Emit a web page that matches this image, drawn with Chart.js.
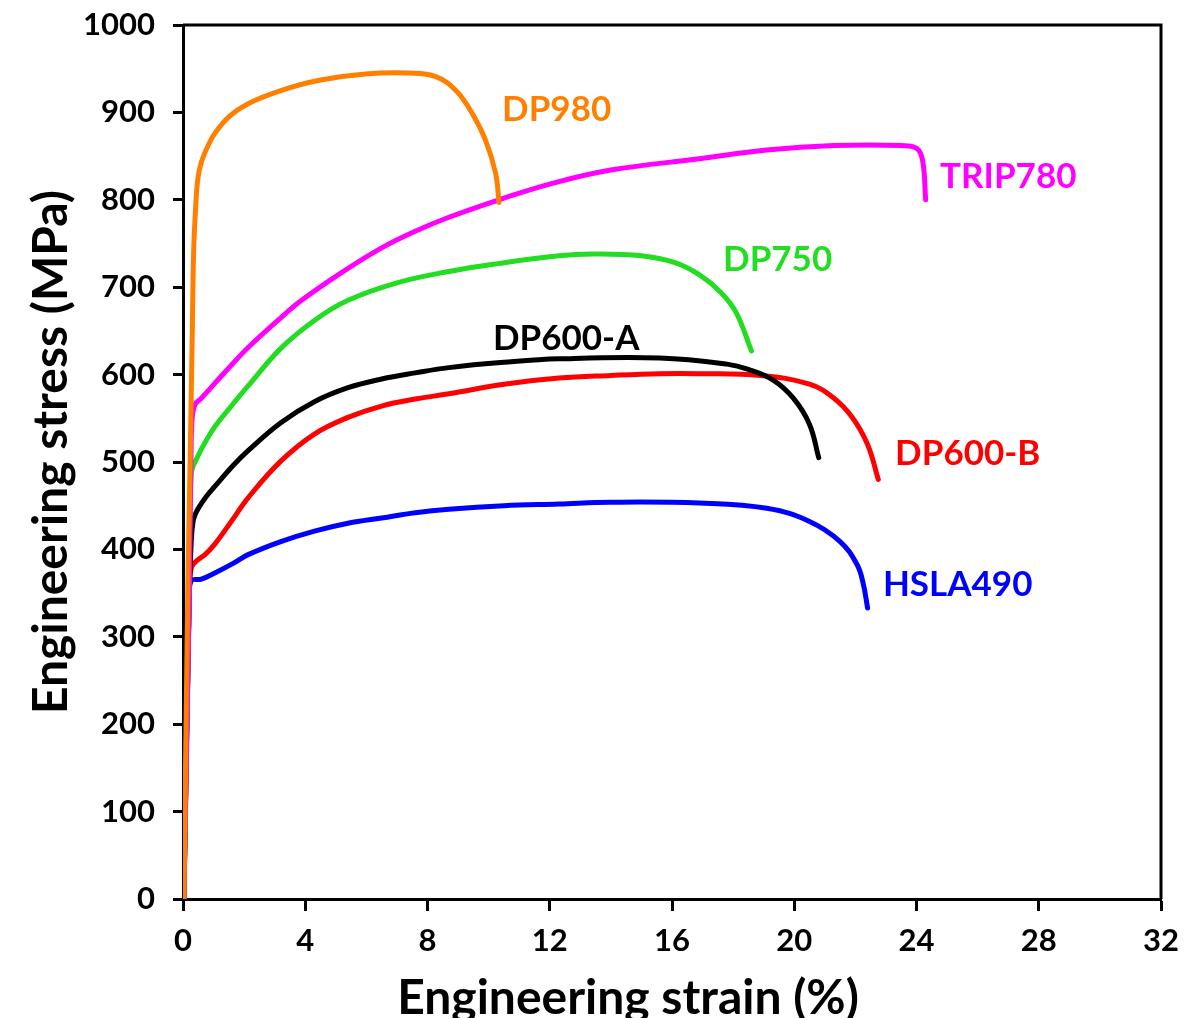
<!DOCTYPE html>
<html>
<head>
<meta charset="utf-8">
<script src="https://cdn.jsdelivr.net/npm/chart.js@4.4.1/dist/chart.umd.min.js"></script>
<style>
  html, body { margin: 0; padding: 0; background: #fff; }
  #wrap { width: 1203px; height: 1018px; }
</style>
</head>
<body>
<div id="wrap"><canvas id="stressChart" width="1203" height="1018"></canvas></div>
<script>
// strain in %, stress in MPa
const dp980Strain = [0.03, 0.16, 0.22, 0.30, 0.35, 0.42, 0.49, 0.60, 0.82, 1.04, 1.50, 2.13, 3.20, 4.50, 5.97, 7.38, 8.27, 8.93, 9.46, 9.90, 10.23, 10.34];
const dp980Stress = [0, 360, 475, 640, 742, 795, 825, 843, 862, 876, 895, 910, 925, 937, 944, 945, 941, 925, 899, 868, 830, 797];

const trip780Strain = [0.03, 0.20, 0.26, 0.30, 0.40, 0.60, 1.04, 1.64, 2.13, 3.20, 3.88, 5.20, 6.50, 7.60, 8.70, 10.34, 12.0, 14.0, 16.9, 19.1, 21.3, 23.5, 24.0, 24.2, 24.3];
const trip780Stress = [0, 340, 500, 550, 566, 573, 590, 613, 631, 665, 685, 717, 745, 764, 780, 800, 818, 834, 847, 857, 862, 862, 859, 845, 800];

const dp750Strain = [0.03, 0.20, 0.27, 0.49, 0.75, 1.05, 1.58, 2.13, 3.2, 4.3, 5.4, 7.0, 8.7, 10.3, 12.3, 13.4, 15.0, 16.1, 16.9, 17.6, 18.1, 18.6];
const dp750Stress = [0, 340, 486, 507, 524, 541, 564, 587, 630, 662, 685, 705, 718, 727, 736, 738, 736, 728, 714, 694, 671, 627];

const dp600aStrain = [0.03, 0.20, 0.27, 0.33, 0.40, 0.50, 0.75, 1.04, 1.64, 2.13, 3.2, 4.3, 5.4, 6.5, 7.6, 8.7, 10.5, 12.3, 15.6, 17.8, 18.5, 19.3, 19.97, 20.5, 20.8];
const dp600aStress = [0, 340, 410, 432, 440, 447, 460, 472, 496, 513, 545, 569, 585, 595, 602, 608, 614, 618, 619, 612, 606, 594, 573, 543, 505];

const dp600bStrain = [0.03, 0.20, 0.27, 0.45, 0.72, 1.04, 1.58, 2.13, 3.2, 4.3, 5.4, 6.5, 7.6, 8.7, 10.5, 12.3, 14.0, 15.6, 16.9, 18.9, 20.5, 21.3, 21.9, 22.4, 22.75];
const dp600bStress = [0, 340, 379, 387, 394, 406, 432, 459, 501, 532, 551, 564, 572, 578, 589, 596, 599, 601, 601, 599, 589, 573, 551, 520, 480];

const hsla490Strain = [0.03, 0.20, 0.27, 0.60, 1.04, 1.64, 2.13, 3.2, 4.3, 5.4, 6.5, 7.6, 8.7, 10.5, 12.3, 14.0, 16.9, 19.1, 20.5, 21.5, 22.05, 22.25, 22.4];
const hsla490Stress = [0, 340, 364, 366, 373, 384, 394, 409, 421, 430, 436, 442, 446, 450, 452, 454, 453, 447, 432, 409, 383, 362, 333];

const seriesNames = ['DP980', 'TRIP780', 'DP750', 'DP600-A', 'DP600-B', 'HSLA490'];
const seriesColors = ['#FF8000', '#FF00FF', '#22DD22', '#000000', '#FF0000', '#0000FF'];

// where each curve name is written (strain %, stress MPa)
const labelStrain = [10.44, 24.77, 17.67, 10.14, 23.3, 22.9];
const labelStress = [903, 826, 732, 641, 509, 360];

const xTicks = [0, 4, 8, 12, 16, 20, 24, 28, 32];
const yTicks = [0, 100, 200, 300, 400, 500, 600, 700, 800, 900, 1000];

const strains = [dp980Strain, trip780Strain, dp750Strain, dp600aStrain, dp600bStrain, hsla490Strain];
const stresses = [dp980Stress, trip780Stress, dp750Stress, dp600aStress, dp600bStress, hsla490Stress];

const datasets = seriesNames.map((name, i) => ({
    label: name,
    data: strains[i].map((s, j) => ({ x: s, y: stresses[i][j] })),
    borderColor: seriesColors[i],
    borderWidth: 5,
    borderCapStyle: 'round',
    borderJoinStyle: 'round',
    pointRadius: 0,
    fill: false,
    tension: 0.4
}));

// box top/right edges, curve names and axis titles
const annotatePlugin = {
    id: 'annotate',
    afterDraw(chart) {
        const { ctx, chartArea: a } = chart;
        const x = chart.scales.x, y = chart.scales.y;
        ctx.save();
        ctx.strokeStyle = '#000';
        ctx.lineWidth = 3;
        ctx.beginPath();
        ctx.moveTo(a.left, a.top);
        ctx.lineTo(a.right, a.top);
        ctx.lineTo(a.right, a.bottom);
        ctx.stroke();

        ctx.font = 'bold 35px Lato';
        ctx.textAlign = 'left';
        ctx.textBaseline = 'middle';
        seriesNames.forEach((name, i) => {
            ctx.fillStyle = seriesColors[i];
            ctx.fillText(name, x.getPixelForValue(labelStrain[i]), y.getPixelForValue(labelStress[i]));
        });

        ctx.fillStyle = '#000';
        ctx.font = 'bold 48px Lato';
        ctx.textAlign = 'center';
        ctx.textBaseline = 'alphabetic';
        ctx.fillText('Engineering strain (%)', 628, 1014);

        ctx.translate(67, 452);
        ctx.rotate(-Math.PI / 2);
        ctx.fillText('Engineering stress (MPa)', 0, 0);
        ctx.restore();
    }
};

const tickFont = { family: 'Lato', weight: 'bold', size: 31 };

new Chart(document.getElementById('stressChart').getContext('2d'), {
    type: 'line',
    data: { datasets: datasets },
    options: {
        responsive: false,
        animation: false,
        devicePixelRatio: 1,
        layout: { padding: { top: 25, right: 42, bottom: 0, left: 0 } },
        plugins: {
            legend: { display: false },
            tooltip: { enabled: false }
        },
        scales: {
            x: {
                type: 'linear',
                min: 0,
                max: 32,
                afterBuildTicks: scale => { scale.ticks = xTicks.map(v => ({ value: v })); },
                afterFit: scale => {
                    scale.height = 119;
                    scale.paddingLeft = 0;
                    scale.paddingRight = 0;
                },
                ticks: { font: tickFont, color: '#000', padding: 11, maxRotation: 0, callback: v => String(v) },
                grid: { drawOnChartArea: false, drawTicks: true, tickLength: 12, tickWidth: 3, color: '#000' },
                border: { display: true, width: 3, color: '#000' }
            },
            y: {
                type: 'linear',
                min: 0,
                max: 1000,
                afterBuildTicks: scale => { scale.ticks = yTicks.map(v => ({ value: v })); },
                afterFit: scale => {
                    scale.width = 183;
                    scale.paddingTop = 0;
                    scale.paddingBottom = 0;
                },
                ticks: { font: tickFont, color: '#000', padding: 18, callback: v => String(v) },
                grid: { drawOnChartArea: false, drawTicks: true, tickLength: 10, tickWidth: 3, color: '#000' },
                border: { display: true, width: 3, color: '#000' }
            }
        }
    },
    plugins: [annotatePlugin]
});
</script>
</body>
</html>
